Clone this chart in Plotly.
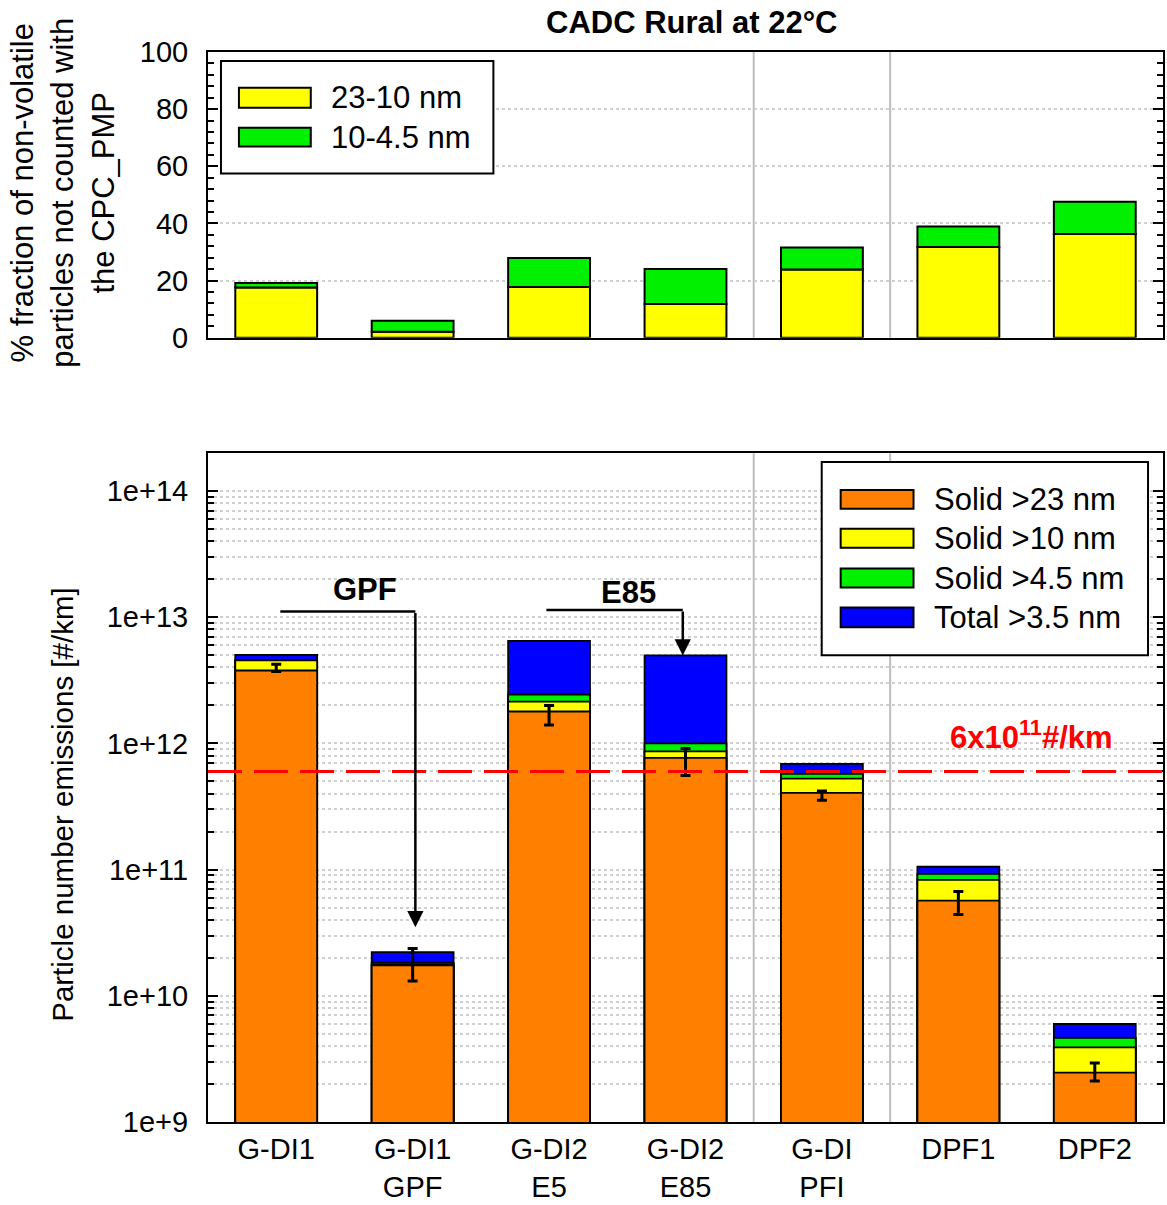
import numpy as np
import plotly.graph_objects as go

# ---------------- data ----------------
categories = ["G-DI1", "G-DI1<br>GPF", "G-DI2<br>E5", "G-DI2<br>E85", "G-DI<br>PFI", "DPF1", "DPF2"]

# top panel: % fraction of non-volatile particles not counted with CPC_PMP
frac_23_10 = [17.6, 2.1, 17.7, 11.8, 23.9, 31.7, 36.3]
frac_10_45 = [1.5, 3.8, 10.2, 12.2, 7.7, 7.2, 11.3]

# bottom panel: particle number emissions [#/km] (cumulative size classes)
solid_23 = [3.78e12, 1.74e10, 1.79e12, 7.67e11, 4.05e11, 5.67e10, 2.46e9]
solid_10 = [4.55e12, 1.78e10, 2.14e12, 8.65e11, 5.25e11, 8.30e10, 3.90e9]
solid_45 = [4.58e12, 1.83e10, 2.44e12, 1.00e12, 5.74e11, 9.25e10, 4.64e9]
total_35 = [5.03e12, 2.22e10, 6.50e12, 4.98e12, 6.88e11, 1.057e11, 5.98e9]

err_center = [3.95e12, 1.77e10, 1.68e12, 7.10e11, 3.85e11, 5.40e10, 2.50e9]
err_low = [3.72e12, 1.31e10, 1.40e12, 5.57e11, 3.54e11, 4.40e10, 2.11e9]
err_high = [4.23e12, 2.37e10, 2.00e12, 9.10e11, 4.19e11, 6.70e10, 2.93e9]

LIMIT = 6e11
tick_exps = [9, 10, 11, 12, 13, 14]
top_ticks = [0, 20, 40, 60, 80, 100]

# ---------------- layout helpers ----------------
W, H = 1167, 1205
L, R, T, B = 208, 2, 52, 78
PW, PH = W - L - R, H - T - B


def px(x):
    return (x - L) / PW


def py(y):
    return (H - B - y) / PH


FONT = "Liberation Sans, Arial, sans-serif"
FS_TICK = 29
FS_LEG = 31
ORANGE, YELLOW, GREEN, BLUE = "#ff8000", "#ffff00", "#00f000", "#0000ff"
GRID = "#cfcfcf"

fig = go.Figure()

# ---- top panel (stacked via base) ----
fig.add_trace(go.Bar(x=categories, y=frac_23_10, width=0.6, name="23-10 nm",
                     marker=dict(color=YELLOW, line=dict(color="black", width=2)),
                     xaxis="x", yaxis="y", showlegend=False))
fig.add_trace(go.Bar(x=categories, y=frac_10_45, base=frac_23_10, width=0.6, name="10-4.5 nm",
                     marker=dict(color=GREEN, line=dict(color="black", width=2)),
                     xaxis="x", yaxis="y", showlegend=False))

# ---- bottom panel (overlay of cumulative classes) ----
for vals, col, nm in [(total_35, BLUE, "Total >3.5 nm"), (solid_45, GREEN, "Solid >4.5 nm"),
                      (solid_10, YELLOW, "Solid >10 nm"), (solid_23, ORANGE, "Solid >23 nm")]:
    fig.add_trace(go.Bar(x=categories, y=vals, width=0.6, name=nm,
                         marker=dict(color=col, line=dict(color="black", width=1.8)),
                         xaxis="x2", yaxis="y2", showlegend=False))

ec = np.array(err_center)
fig.add_trace(go.Scatter(x=categories, y=err_center, mode="markers",
                         marker=dict(size=2, color="black"),
                         error_y=dict(type="data", array=list(np.array(err_high) - ec),
                                      arrayminus=list(ec - np.array(err_low)),
                                      color="black", thickness=3, width=5),
                         xaxis="x2", yaxis="y2", showlegend=False))

minor_vals = [k * 10.0 ** e for e in range(9, 15) for k in range(2, 10)]

fig.update_layout(
    width=W, height=H, margin=dict(l=L, r=R, t=T, b=B),
    paper_bgcolor="white", plot_bgcolor="white",
    barmode="overlay", bargap=0.4,
    font=dict(family=FONT, size=FS_TICK, color="black"),
    showlegend=False,
    xaxis=dict(domain=[0, 1], anchor="y", range=[-0.5, 6.5], type="category",
               showticklabels=False, ticks="", showgrid=False, zeroline=False,
               showline=True, linecolor="black", linewidth=2, mirror=True),
    yaxis=dict(domain=[py(339), 1], anchor="x", range=[0, 100], tickvals=top_ticks,
               ticks="inside", ticklen=10, tickwidth=2, tickcolor="black",
               showline=True, linecolor="black", linewidth=2, mirror="ticks",
               showgrid=True, gridcolor=GRID, griddash="dot", gridwidth=1.5,
               zeroline=False, ticklabelstandoff=12, tickfont=dict(size=FS_TICK),
               minor=dict(dtick=4, ticks="inside", ticklen=6, tickwidth=1.5,
                          tickcolor="black", showgrid=False)),
    xaxis2=dict(domain=[0, 1], anchor="y2", range=[-0.5, 6.5], type="category",
                ticks="", showgrid=False, zeroline=False,
                showline=True, linecolor="black", linewidth=2, mirror=True,
                tickfont=dict(size=FS_TICK)),
    yaxis2=dict(domain=[0, py(455)], anchor="x2", type="log", range=[9, 14.3],
                tickvals=[10.0 ** e for e in tick_exps], tickformat=".0e",
                ticks="inside", ticklen=10, tickwidth=2, tickcolor="black",
                showline=True, linecolor="black", linewidth=2, mirror="ticks",
                showgrid=True, gridcolor=GRID, griddash="dot", gridwidth=1.5,
                zeroline=False, ticklabelstandoff=12, tickfont=dict(size=FS_TICK),
                minor=dict(tickvals=minor_vals, ticks="inside", ticklen=6, tickwidth=1.5,
                           tickcolor="black", showgrid=True, gridcolor=GRID,
                           griddash="dot", gridwidth=1.5)),
)

shapes = []
# vertical separators in both panels
for xv in [3.5, 4.5]:
    for xr, yr in [("x", "y domain"), ("x2", "y2 domain")]:
        shapes.append(dict(type="line", xref=xr, yref=yr, x0=xv, x1=xv, y0=0, y1=1,
                           line=dict(color="#bdbdbd", width=2), layer="below"))
# limit line
shapes.append(dict(type="line", xref="x2 domain", yref="y2", x0=0, x1=1, y0=LIMIT, y1=LIMIT,
                   line=dict(color="#ff0000", width=3, dash="34px,12px"), layer="above"))
# GPF / E85 bracket horizontals
shapes.append(dict(type="line", xref="x2", yref="y2", x0=0.03, x1=1.02, y0=1.11e13, y1=1.11e13,
                   line=dict(color="black", width=2.5), layer="above"))
shapes.append(dict(type="line", xref="x2", yref="y2", x0=1.98, x1=2.98, y0=1.14e13, y1=1.14e13,
                   line=dict(color="black", width=2.5), layer="above"))


# legend boxes (custom, to get wide swatches)
def box(x0, y0, x1, y1, fill, lw=2):
    return dict(type="rect", xref="paper", yref="paper", x0=px(x0), x1=px(x1),
                y0=py(y1), y1=py(y0), fillcolor=fill, line=dict(color="black", width=lw),
                layer="above")


shapes.append(box(221, 61, 494, 174, "white"))
shapes.append(box(239, 88, 311, 108, YELLOW))
shapes.append(box(239, 128, 311, 147, GREEN))

shapes.append(box(823, 464, 1150, 658, "white"))
leg_items = [("Solid >23 nm", ORANGE, 492, 511), ("Solid >10 nm", YELLOW, 531, 550),
             ("Solid >4.5 nm", GREEN, 571, 590), ("Total >3.5 nm", BLUE, 610, 630)]
for _, c, y0, y1 in leg_items:
    shapes.append(box(842, y0, 915, y1, c))

fig.update_layout(shapes=shapes)

ann = []


def text(x, y, s, size=FS_LEG, bold=False, color="black", xanchor="center", angle=0):
    return dict(xref="paper", yref="paper", x=px(x), y=py(y), text=("<b>%s</b>" % s) if bold else s,
                showarrow=False, xanchor=xanchor, yanchor="middle", textangle=angle,
                font=dict(size=size, color=color, family=FONT))


ann.append(text(693, 22, "CADC Rural at 22°C", bold=True, size=31))
ann.append(text(63, 193, "% fraction of non-volatile<br>particles not counted with<br>the CPC_PMP",
                angle=-90, size=31))
ann.append(text(62, 808, "Particle number emissions [#/km]", angle=-90, size=29.5))
ann.append(text(329, 98, "23-10 nm", xanchor="left"))
ann.append(text(329, 138, "10-4.5 nm", xanchor="left"))
for (lab, _, y0, y1) in leg_items:
    ann.append(text(934, (y0 + y1) / 2, lab, xanchor="left"))
ann.append(text(1033, 738, "6x10<sup>11</sup>#/km", bold=True, color="#ff0000", size=31))
ann.append(text(365, 592, "GPF", bold=True, size=31))
ann.append(text(629, 595, "E85", bold=True, size=31))

# arrows (annotation coordinates on a log axis are log10 values)
ann.append(dict(xref="x2", yref="y2", axref="x2", ayref="y2",
                x=1.02, y=np.log10(3.5e10), ax=1.02, ay=np.log10(1.11e13),
                showarrow=True, arrowhead=2, arrowsize=1.3, arrowwidth=2.5,
                arrowcolor="black", text=""))
ann.append(dict(xref="x2", yref="y2", axref="x2", ayref="y2",
                x=2.98, y=np.log10(4.98e12), ax=2.98, ay=np.log10(1.14e13),
                showarrow=True, arrowhead=2, arrowsize=1.3, arrowwidth=2.5,
                arrowcolor="black", text=""))

fig.update_layout(annotations=ann)

fig.write_html("out.html")
